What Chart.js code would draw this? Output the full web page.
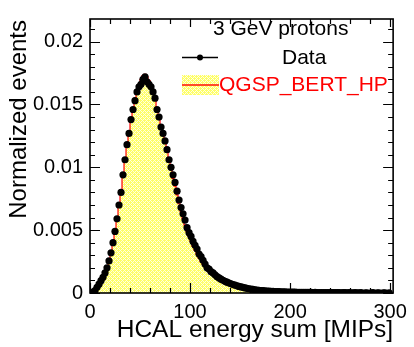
<!DOCTYPE html>
<html>
<head>
<meta charset="utf-8">
<script src="https://cdn.jsdelivr.net/npm/chart.js@4.4.1/dist/chart.umd.min.js"></script>
<style>
  html, body { margin: 0; padding: 0; background: #ffffff; }
  #wrap { width: 414px; height: 347px; }
</style>
</head>
<body>
<div id="wrap"><canvas id="c" width="414" height="347"></canvas></div>
<script>
// Histogram binning: 2 MIP bins from 0 to 300
const binWidth = 2;

// Measured data, normalized events per bin
const dataValues = [
  0.00002, 0.00008, 0.0002, 0.00045, 0.0007, 0.00098, 0.00125, 0.0016, 0.002, 0.00255,
  0.0032, 0.004, 0.0049, 0.0059, 0.007, 0.008, 0.0094, 0.0106, 0.0118, 0.0127,
  0.0138, 0.0146, 0.0153, 0.016, 0.0164, 0.0166, 0.017, 0.0172, 0.0168, 0.0166,
  0.0164, 0.016, 0.0155, 0.0146, 0.014, 0.0132, 0.0127, 0.0121, 0.0114, 0.0106,
  0.01, 0.0094, 0.0088, 0.0081, 0.0074, 0.0068, 0.0063, 0.0058, 0.0052, 0.0048,
  0.0045, 0.0041, 0.0038, 0.0035, 0.0031, 0.0029, 0.0026, 0.0023, 0.002, 0.0019,
  0.0017, 0.0016, 0.00145, 0.0013, 0.0012, 0.0011, 0.00101, 0.00093, 0.00086, 0.00079,
  0.00073, 0.00067, 0.00062, 0.00057, 0.00052, 0.00048, 0.00044, 0.0004, 0.00037, 0.00034,
  0.00031, 0.00029, 0.00026, 0.00024, 0.00022, 0.0002, 0.00019, 0.00017, 0.00016, 0.00015,
  0.00014, 0.00013, 0.00012, 0.00011, 0.00011, 0.0001, 0.00009, 0.00009, 0.00008, 0.00008,
  0.00007, 0.00007, 0.00007, 0.00006, 0.00006, 0.00006, 0.00005, 0.00006, 0.00005, 0.00005,
  0.00005, 0.00004, 0.00005, 0.00004, 0.00004, 0.00004, 0.00004, 0.00003, 0.00004, 0.00003,
  0.00004, 0.00003, 0.00003, 0.00003, 0.00003, 0.00002, 0.00003, 0.00003, 0.00002, 0.00003,
  0.00002, 0.00002, 0.00003, 0.00002, 0.00002, 0.00003, null, 0.00002, 0.00002, null,
  0.00002, 0.00003, null, 0.00002, 0.00002, null, 0.00002, 0.00002, null, 0.00002
];

// QGSP_BERT_HP simulation, normalized events per bin
const simValues = [
  0.00003, 0.0001, 0.00025, 0.0005, 0.00075, 0.001, 0.0013, 0.00165, 0.00205, 0.0026,
  0.0033, 0.0041, 0.005, 0.006, 0.0071, 0.0082, 0.0094, 0.0106, 0.0117, 0.0128,
  0.0138, 0.0147, 0.0155, 0.0161, 0.0166, 0.017, 0.0173, 0.0174, 0.0172, 0.0169,
  0.0165, 0.016, 0.0154, 0.0147, 0.014, 0.0133, 0.0126, 0.0119, 0.0112, 0.0105,
  0.0098, 0.0091, 0.0085, 0.0078, 0.0071, 0.0065, 0.0059, 0.0054, 0.0049, 0.0045,
  0.0041, 0.0037, 0.0034, 0.0031, 0.0028, 0.0025, 0.0023, 0.0021, 0.0019, 0.0017,
  0.0015, 0.0014, 0.00125, 0.00113, 0.00102, 0.00092, 0.00083, 0.00075, 0.00067, 0.0006,
  0.00054, 0.00048, 0.00043, 0.00038, 0.00034, 0.0003, 0.00027, 0.00024, 0.00021, 0.00019,
  0.00017, 0.00015, 0.00013, 0.00012, 0.00011, 0.0001, 0.00009, 0.00008, 0.00007, 0.00006,
  0.00006, 0.00005, 0.00005, 0.00005, 0.00004, 0.00004, 0.00004, 0.00004, 0.00003, 0.00003,
  0.00003, 0.00003, 0.00003, 0.00003, 0.00002, 0.00002, 0.00002, 0.00002, 0.00002, 0.00002,
  0.00002, 0.00002, 0.00002, 0.00002, 0.00002, 0.00002, 0.00002, 0.00001, 0.00001, 0.00001,
  0.00001, 0.00001, 0.00001, 0.00001, 0.00001, 0.00001, 0.00001, 0.00001, 0.00001, 0.00001,
  0.00001, 0.00001, 0.00001, 0.00001, 0.00001, 0.00001, 0.00001, 0.00001, 0.00001, 0.00001,
  0.00001, 0.00001, 0.00001, 0.00001, 0.00001, 0.00001, 0.00001, 0.00001, 0.00001, 0.00001
];

const xTickValues = [0, 100, 200, 300];
const xTickLabels = ['0', '100', '200', '300'];
const yTickValues = [0, 0.005, 0.01, 0.015, 0.02];
const yTickLabels = ['0', '0.005', '0.01', '0.015', '0.02'];

const legendHeader = '3 GeV protons';
const dataLabel = 'Data';
const simLabel = 'QGSP_BERT_HP';
const xTitle = 'HCAL energy sum [MIPs]';
const yTitle = 'Normalized events';

const FONT = '"Liberation Sans", Arial, Helvetica, sans-serif';

const toPoints = vals => vals.map((v, i) => ({ x: (i + 0.5) * binWidth, y: v }));

// Pale yellow hatched fill for the simulated histogram
function makeFillPattern() {
  const p = document.createElement('canvas');
  p.width = 4; p.height = 4;
  const g = p.getContext('2d');
  g.fillStyle = '#ffff66';
  g.fillRect(0, 0, 4, 4);
  g.fillStyle = '#ffffe0';
  [[1, 1], [3, 3], [1, 3], [3, 1], [0, 2], [2, 0]].forEach(([x, y]) => g.fillRect(x, y, 1, 1));
  return g.createPattern(p, 'repeat');
}
const fillPattern = makeFillPattern();

// Frame, inward ticks on all four sides, axis titles and legend box
const decorations = {
  id: 'decorations',
  afterDraw(chart) {
    const { ctx, chartArea: a, scales: { x, y } } = chart;
    ctx.save();
    ctx.strokeStyle = '#000';
    ctx.lineWidth = 1.6;
    ctx.strokeRect(a.left, a.top, a.right - a.left, a.bottom - a.top);

    ctx.lineWidth = 1.2;
    ctx.beginPath();
    for (let k = 0; k <= 21; k++) {
      const v = k * 0.001;
      const py = Math.round(y.getPixelForValue(v)) + 0.5;
      const len = (k % 5 === 0) ? 10 : 5;
      ctx.moveTo(a.left, py); ctx.lineTo(a.left + len, py);
      ctx.moveTo(a.right, py); ctx.lineTo(a.right - len, py);
    }
    for (let k = 0; k <= 15; k++) {
      const v = k * 20;
      const px = Math.round(x.getPixelForValue(v)) + 0.5;
      const major = k % 5 === 0;
      ctx.moveTo(px, a.bottom); ctx.lineTo(px, a.bottom - (major ? 10 : 5));
      ctx.moveTo(px, a.top); ctx.lineTo(px, a.top + (major ? 8 : 5));
    }
    ctx.stroke();

    // axis titles
    ctx.fillStyle = '#000';
    ctx.font = '24.5px ' + FONT;
    ctx.textAlign = 'right';
    ctx.textBaseline = 'alphabetic';
    ctx.fillText(xTitle, a.right, 337);
    ctx.save();
    ctx.translate(26, a.top + 1);
    ctx.rotate(-Math.PI / 2);
    ctx.font = '24px ' + FONT;
    ctx.fillText(yTitle, 0, 0);
    ctx.restore();

    // legend
    ctx.textAlign = 'left';
    ctx.textBaseline = 'middle';
    ctx.font = '21px ' + FONT;
    ctx.fillText(legendHeader, 213, 29);
    ctx.fillText(dataLabel, 282, 58);
    ctx.beginPath();
    ctx.lineWidth = 1.5;
    ctx.moveTo(182, 57.5); ctx.lineTo(218, 57.5);
    ctx.stroke();
    ctx.beginPath();
    ctx.arc(200, 57.5, 3, 0, Math.PI * 2);
    ctx.fill();

    ctx.fillStyle = fillPattern;
    ctx.fillRect(182, 75, 37, 20);
    ctx.strokeStyle = '#ff4a2a';
    ctx.lineWidth = 2;
    ctx.beginPath();
    ctx.moveTo(182, 85); ctx.lineTo(219, 85);
    ctx.stroke();
    ctx.fillStyle = '#ff0000';
    ctx.fillText(simLabel, 219, 85);
    ctx.restore();
  }
};

new Chart(document.getElementById('c'), {
  type: 'line',
  data: {
    datasets: [
      {
        label: dataLabel,
        data: toPoints(dataValues),
        showLine: false,
        pointRadius: 3.6,
        pointBorderWidth: 0,
        pointBackgroundColor: '#000',
        pointBorderColor: '#000',
        order: 0
      },
      {
        label: simLabel,
        data: toPoints(simValues),
        borderColor: '#ff0000',
        borderWidth: 1.2,
        backgroundColor: fillPattern,
        fill: 'origin',
        stepped: 'middle',
        pointRadius: 0,
        order: 1
      }
    ]
  },
  options: {
    responsive: false,
    animation: false,
    devicePixelRatio: 1,
    layout: { padding: { top: 9, right: 19, left: 0, bottom: 0 } },
    plugins: { legend: { display: false }, tooltip: { enabled: false } },
    scales: {
      x: {
        type: 'linear',
        min: 0,
        max: 303,
        grid: { display: false, drawTicks: false },
        border: { display: false },
        afterBuildTicks: s => { s.ticks = xTickValues.map(v => ({ value: v })); },
        afterFit: s => { s.height = 54; },
        ticks: {
          autoSkip: false,
          maxRotation: 0,
          padding: 7,
          color: '#000',
          font: { family: FONT, size: 20 },
          callback: v => xTickLabels[xTickValues.indexOf(v)]
        }
      },
      y: {
        type: 'linear',
        min: 0,
        max: 0.0218,
        grid: { display: false, drawTicks: false },
        border: { display: false },
        afterBuildTicks: s => { s.ticks = yTickValues.map(v => ({ value: v })); },
        afterFit: s => { s.width = 90; },
        ticks: {
          autoSkip: false,
          padding: 7,
          color: '#000',
          font: { family: FONT, size: 20 },
          callback: v => yTickLabels[yTickValues.indexOf(v)]
        }
      }
    }
  },
  plugins: [decorations]
});
</script>
</body>
</html>
